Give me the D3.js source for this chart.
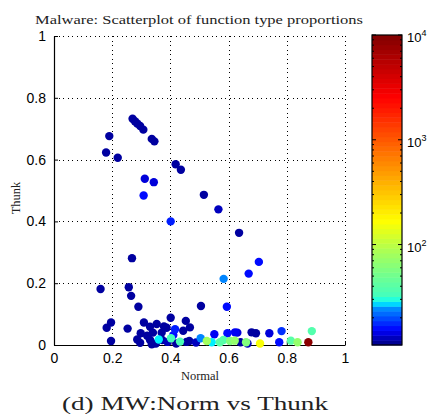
<!DOCTYPE html>
<html>
<head>
<meta charset="utf-8">
<script src="https://cdn.jsdelivr.net/npm/d3@7"></script>
<style>
  body { margin: 0; background: #fff; }
  svg { display: block; }
  .tick-label { font-family: "Liberation Sans", Arial, sans-serif; font-size: 14px; fill: #000; }
  .serif { font-family: "Liberation Serif", "DejaVu Serif", serif; fill: #222; }
</style>
</head>
<body>
<div id="chart"></div>
<script>
// tick values
const xTicks = [0, 0.2, 0.4, 0.6, 0.8, 1];
const yTicks = [0, 0.2, 0.4, 0.6, 0.8, 1];
const cbarTicks = [100, 1000, 10000];
const cbarTickExp = ['2', '3', '4'];

// points: Normal proportion, Thunk proportion, count (colour)
const normal = [
  0.270, 0.278, 0.286, 0.296, 0.307, 0.336, 0.345, 0.190, 0.179, 0.219,
  0.418, 0.436, 0.312, 0.343, 0.308, 0.515, 0.565, 0.401, 0.636, 0.268,
  0.583, 0.160, 0.257, 0.265, 0.704, 0.669, 0.505, 0.594, 0.290,
  0.181, 0.196, 0.196, 0.253, 0.309, 0.330, 0.353, 0.298, 0.286, 0.296,
  0.330, 0.336, 0.360, 0.372, 0.401, 0.387, 0.416, 0.410, 0.402, 0.433,
  0.453, 0.467, 0.444, 0.465, 0.488, 0.504, 0.525, 0.542, 0.551, 0.570,
  0.582, 0.596, 0.605, 0.621, 0.622, 0.630, 0.641, 0.660, 0.665, 0.679,
  0.694, 0.708, 0.740, 0.774, 0.782, 0.814, 0.837, 0.874, 0.886,
  0.370, 0.350, 0.320, 0.420, 0.390, 0.455, 0.378, 0.340
];
const thunk = [
  0.732, 0.724, 0.717, 0.709, 0.697, 0.667, 0.659, 0.676, 0.623, 0.606,
  0.585, 0.567, 0.538, 0.527, 0.484, 0.486, 0.439, 0.400, 0.363, 0.281,
  0.214, 0.181, 0.187, 0.159, 0.269, 0.231, 0.126, 0.124, 0.124,
  0.056, 0.073, 0.013, 0.053, 0.073, 0.059, 0.068, 0.038, 0.018, 0.007,
  0.016, 0.002, 0.018, 0.016, 0.088, 0.056, 0.051, 0.032, 0.022, 0.011,
  0.078, 0.057, 0.046, 0.013, 0.008, 0.022, 0.013, 0.009, 0.035, 0.009,
  0.016, 0.038, 0.013, 0.014, 0.041, 0.040, 0.009, 0.009, 0.005, 0.041,
  0.038, 0.005, 0.038, 0.009, 0.045, 0.014, 0.009, 0.009, 0.045,
  0.040, 0.005, 0.030, 0.005, 0.010, 0.010, 0.060, 0.040
];
const counts = [
  12, 12, 12, 12, 12, 12, 12, 12, 12, 12,
  12, 12, 14, 14, 16, 12, 13, 17, 12, 12,
  24, 12, 12, 12, 16, 16, 12, 16, 12,
  12, 12, 12, 12, 12, 12, 12, 12, 12, 12,
  12, 12, 28, 12, 12, 12, 17, 16, 33, 35,
  12, 12, 12, 12, 13, 24, 80, 28, 15, 40,
  38, 16, 60, 70, 15, 14, 12, 60, 13, 12,
  12, 160, 14, 16, 18, 40, 70, 9000, 38,
  12, 12, 12, 12, 13, 12, 12, 12
];

const W = 428, H = 416;
const plot = { left: 54, right: 345, top: 36, bottom: 345 };
const cbar = { left: 372, right: 402, top: 35, bottom: 345 };

const svg = d3.select('#chart').append('svg')
  .attr('width', W).attr('height', H);

const x = d3.scaleLinear().domain([0, 1]).range([plot.left, plot.right]);
const y = d3.scaleLinear().domain([0, 1]).range([plot.bottom, plot.top]);

// jet-like colormap as used by the original figure
const cmapStops = [0, 0.05, 0.12, 0.14, 0.155, 0.3, 0.4, 0.6, 0.8, 1];
const cmapColors = ['#00007f', '#0000ff', '#0090ff', '#00ffff', '#40ffc0',
  '#a8ff58', '#ffff00', '#ff8000', '#ff0000', '#800000'];
const cmap = d3.scaleLinear().domain(cmapStops).range(cmapColors)
  .interpolate(d3.interpolateRgb).clamp(true);
const cLog = d3.scaleLog().domain([11, 10000]).range([0, 1]).clamp(true);
const color = v => cmap(cLog(v));

// grid (dotted)
const grid = svg.append('g').attr('stroke', '#000').attr('stroke-width', 1)
  .attr('stroke-dasharray', '1,3.5').attr('shape-rendering', 'crispEdges');
grid.selectAll('.gx').data(xTicks.filter(d => d > 0)).join('line')
  .attr('x1', d => Math.round(x(d)) + 0.5).attr('x2', d => Math.round(x(d)) + 0.5)
  .attr('y1', plot.top).attr('y2', plot.bottom);
grid.selectAll('.gy').data(yTicks.filter(d => d > 0)).join('line')
  .attr('class', 'gy')
  .attr('x1', plot.left).attr('x2', plot.right)
  .attr('y1', d => Math.round(y(d)) + 0.5).attr('y2', d => Math.round(y(d)) + 0.5);

// axes
const xAxis = svg.append('g')
  .attr('transform', `translate(0,${plot.bottom})`)
  .call(d3.axisBottom(x).tickValues(xTicks).tickFormat(d3.format('~g'))
    .tickSizeInner(-4).tickSizeOuter(0).tickPadding(8));
const yAxis = svg.append('g')
  .attr('transform', `translate(${plot.left},0)`)
  .call(d3.axisLeft(y).tickValues(yTicks).tickFormat(d3.format('~g'))
    .tickSizeInner(-4).tickSizeOuter(0).tickPadding(8));
[xAxis, yAxis].forEach(a => {
  a.select('.domain').attr('stroke', '#000').attr('stroke-width', 1.2);
  a.selectAll('.tick line').attr('stroke', '#000');
  a.selectAll('.tick text').attr('class', 'tick-label').attr('fill', '#000')
    .style('font-family', '"Liberation Sans", Arial, sans-serif').style('font-size', '14px');
});

// points
const pts = normal.map((n, i) => ({ x: n, y: thunk[i], c: counts[i] }))
  .sort((a, b) => a.c - b.c);
svg.append('g').selectAll('circle').data(pts).join('circle')
  .attr('cx', d => x(d.x)).attr('cy', d => y(d.y))
  .attr('r', 4.2).attr('fill', d => color(d.c));

// colorbar
const cy = d3.scaleLog().domain([11, 10000]).range([cbar.bottom, cbar.top]);
const nBands = 64;
const bands = d3.range(nBands);
const bandH = (cbar.bottom - cbar.top) / nBands;
svg.append('g').selectAll('rect').data(bands).join('rect')
  .attr('x', cbar.left).attr('width', cbar.right - cbar.left)
  .attr('y', i => cbar.bottom - (i + 1) * bandH).attr('height', bandH + 0.5)
  .attr('fill', i => cmap((i + 0.5) / nBands));
svg.append('rect')
  .attr('x', cbar.left).attr('y', cbar.top)
  .attr('width', cbar.right - cbar.left).attr('height', cbar.bottom - cbar.top)
  .attr('fill', 'none').attr('stroke', '#000').attr('stroke-width', 1.2);

// colorbar ticks (log minor + major)
const minor = [];
[10, 100, 1000].forEach(b => d3.range(2, 10).forEach(m => { if (b * m > 11) minor.push(b * m); }));
const ct = svg.append('g').attr('stroke', '#000').attr('stroke-width', 1);
ct.selectAll('.ml').data(minor).join('line')
  .attr('x1', cbar.left).attr('x2', cbar.left + 2)
  .attr('y1', d => cy(d)).attr('y2', d => cy(d));
ct.selectAll('.mr').data(minor).join('line')
  .attr('x1', cbar.right).attr('x2', cbar.right - 2)
  .attr('y1', d => cy(d)).attr('y2', d => cy(d));
ct.selectAll('.Ml').data(cbarTicks).join('line')
  .attr('x1', cbar.left).attr('x2', cbar.left + 4)
  .attr('y1', d => cy(d)).attr('y2', d => cy(d));
ct.selectAll('.Mr').data(cbarTicks).join('line')
  .attr('x1', cbar.right).attr('x2', cbar.right - 4)
  .attr('y1', d => cy(d)).attr('y2', d => cy(d));

const cl = svg.append('g').selectAll('text').data(cbarTicks).join('text')
  .attr('class', 'tick-label').style('font-size', '13px')
  .attr('x', cbar.right + 5).attr('y', d => cy(d) + 7);
cl.append('tspan').text('10');
cl.append('tspan').attr('dy', -6).style('font-size', '9px')
  .text((d, i) => cbarTickExp[i]);

// texts
svg.append('text').attr('class', 'serif')
  .attr('x', 199).attr('y', 24).attr('text-anchor', 'middle')
  .attr('textLength', 328).attr('lengthAdjust', 'spacingAndGlyphs')
  .style('font-size', '13px')
  .text('Malware: Scatterplot of function type proportions');
svg.append('text').attr('class', 'serif')
  .attr('x', 200).attr('y', 380).attr('text-anchor', 'middle')
  .style('font-size', '12.5px').text('Normal');
svg.append('text').attr('class', 'serif')
  .attr('transform', 'translate(20,198) rotate(-90)').attr('text-anchor', 'middle')
  .style('font-size', '12.5px').text('Thunk');
svg.append('text').attr('class', 'serif')
  .attr('x', 195).attr('y', 410).attr('text-anchor', 'middle')
  .attr('textLength', 266).attr('lengthAdjust', 'spacingAndGlyphs')
  .style('font-size', '19px').text('(d) MW:Norm vs Thunk');
</script>
</body>
</html>
